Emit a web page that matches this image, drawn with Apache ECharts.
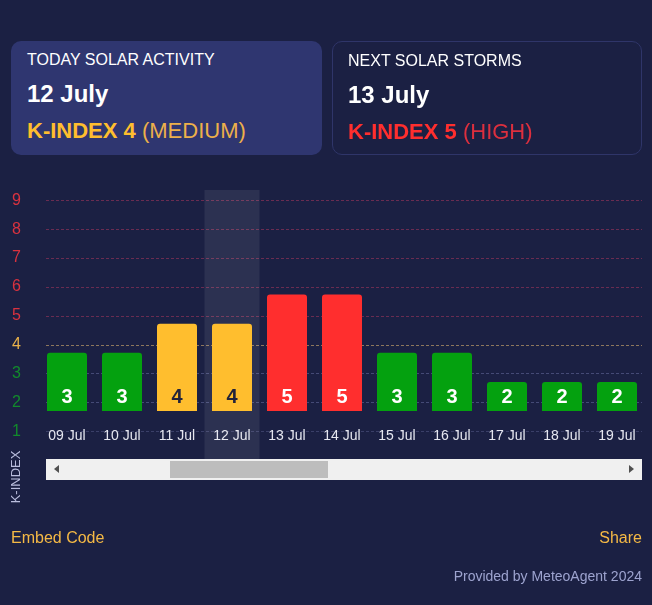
<!DOCTYPE html>
<html>
<head>
<meta charset="utf-8">
<title>K-Index</title>
<script src="https://cdn.jsdelivr.net/npm/echarts@6/dist/echarts.min.js"></script>
<style>
  html, body { margin: 0; padding: 0; width: 652px; height: 605px; overflow: hidden; background: #1b2043; font-family: "Liberation Sans", Arial, sans-serif; color: #fff; }
  .card { position: absolute; top: 41px; width: 311px; height: 114px; box-sizing: border-box; border-radius: 10px; padding: 0 16px; }
  #today { left: 11px; background: #2f3670; }
  #next { left: 332px; width: 310px; border: 1px solid #2f3569; padding: 0 15px; }
  .cardTitle { position: absolute; top: 10px; font-size: 16px; line-height: 18px; }
  .cardDate { position: absolute; top: 39px; font-size: 24px; line-height: 28px; font-weight: bold; }
  .cardLevel { position: absolute; top: 77px; font-size: 22px; line-height: 26px; }
  .cardLevel b { font-weight: bold; }
  .yellow { color: #ffbe2e; }
  .yellow span { color: #edb04a; }
  .red { color: #ff2e2e; }
  .red span { color: #dc2f3e; }
  #chart { position: absolute; left: 0; top: 0; width: 652px; height: 605px; }
  #scrollTrack { position: absolute; left: 46px; top: 459px; width: 596px; height: 21px; background: #f0f0f0; }
  #scrollThumb { position: absolute; left: 124px; top: 2px; width: 158px; height: 17px; background: #bdbdbd; }
  .arrow { position: absolute; top: 6px; width: 0; height: 0; border-top: 4.5px solid transparent; border-bottom: 4.5px solid transparent; }
  #arrowLeft { left: 8px; border-right: 5px solid #505050; }
  #arrowRight { right: 8px; border-left: 5px solid #505050; }
  .link { position: absolute; top: 529px; font-size: 16px; line-height: 18px; color: #f5b945; }
  #credit { position: absolute; right: 10px; top: 568px; font-size: 14px; line-height: 16px; color: #9da3cf; }
</style>
</head>
<body>
<div id="chart"></div>
<div class="card" id="today">
  <div class="cardTitle">TODAY SOLAR ACTIVITY</div>
  <div class="cardDate">12 July</div>
  <div class="cardLevel yellow"><b>K-INDEX 4</b> <span>(MEDIUM)</span></div>
</div>
<div class="card" id="next">
  <div class="cardTitle">NEXT SOLAR STORMS</div>
  <div class="cardDate">13 July</div>
  <div class="cardLevel red"><b>K-INDEX 5</b> <span>(HIGH)</span></div>
</div>
<div id="scrollTrack">
  <div class="arrow" id="arrowLeft"></div>
  <div id="scrollThumb"></div>
  <div class="arrow" id="arrowRight"></div>
</div>
<div class="link" style="left:11px">Embed Code</div>
<div class="link" style="right:10px">Share</div>
<div id="credit">Provided by MeteoAgent 2024</div>

<script>
var days = ["09 Jul", "10 Jul", "11 Jul", "12 Jul", "13 Jul", "14 Jul", "15 Jul", "16 Jul", "17 Jul", "18 Jul", "19 Jul"]
var kIndex = [3, 3, 4, 4, 5, 5, 3, 3, 2, 2, 2]
var selectedDay = "12 Jul"

function levelColor(k) {
  if (k >= 5) return "#ff2e2e"
  if (k == 4) return "#ffbe2e"
  return "#04a10f"
}

function tickColor(k) {
  if (k >= 5) return "#d9323f"
  if (k == 4) return "#e8b04a"
  return "#128a2c"
}

var myChart = echarts.init(document.getElementById("chart"))

var option = {
  animation: false,
  backgroundColor: "transparent",
  textStyle: { fontFamily: "Liberation Sans" },
  grid: [
    // the dashed scale, clipped to the scroll area
    { left: 46, width: 596, top: 190.4, height: 270 },
    // the selected day band
    { left: 39.5, width: 605, top: 190, height: 269 },
    // the bars themselves
    { left: 39.5, width: 605, top: 190, height: 221 },
  ],
  xAxis: [
    { gridIndex: 0, type: "category", data: days, show: false },
    {
      gridIndex: 1,
      type: "category",
      data: days,
      axisLine: { show: false },
      axisTick: { show: false },
      axisLabel: { show: false },
      axisPointer: {
        show: true,
        type: "shadow",
        value: selectedDay,
        status: "show",
        triggerTooltip: false,
        z: 1,
        label: { show: false },
        shadowStyle: { color: "rgba(255,255,255,0.08)" },
      },
    },
    {
      gridIndex: 2,
      type: "category",
      data: days,
      axisLine: { show: false },
      axisTick: { show: false },
      axisLabel: { color: "#e6e7f0", fontSize: 14, margin: 18, interval: 0 },
    },
  ],
  yAxis: [
    {
      gridIndex: 0,
      type: "value",
      min: 0,
      max: 9.34,
      interval: 1,
      axisLine: { show: false },
      axisTick: { show: false },
      axisLabel: {
        align: "left",
        margin: 34,
        fontSize: 16,
        padding: [0, 0, 5, 0],
        showMinLabel: false,
        showMaxLabel: false,
        color: (value) => tickColor(value),
      },
      splitLine: {
        showMinLine: false,
        showMaxLine: false,
        lineStyle: {
          type: [3, 2],
          width: 1,
          color: [
            "rgba(150,155,215,0.25)",
            "rgba(150,155,215,0.35)",
            "rgba(150,155,215,0.35)",
            "rgba(255,205,120,0.5)",
            "rgba(255,70,110,0.35)",
            "rgba(255,70,110,0.35)",
            "rgba(255,70,110,0.35)",
            "rgba(255,70,110,0.35)",
            "rgba(255,70,110,0.35)",
          ],
        },
      },
    },
    { gridIndex: 1, type: "value", min: 0, max: 1, show: false },
    { gridIndex: 2, type: "value", min: 1, max: 8.59, show: false },
  ],
  series: [
    {
      type: "bar",
      z: 60,
      xAxisIndex: 2,
      yAxisIndex: 2,
      barWidth: 40,
      data: kIndex.map((k) => ({
        value: k,
        itemStyle: { color: levelColor(k), borderRadius: [3, 3, 0, 0] },
        label: { color: k == 4 ? "#23243a" : "#ffffff" },
      })),
      label: {
        show: true,
        position: "insideBottom",
        distance: 4,
        fontSize: 20,
        fontWeight: "bold",
      },
    },
  ],
  graphic: [
    {
      type: "text",
      x: 16,
      y: 477,
      rotation: Math.PI / 2,
      style: {
        text: "K-INDEX",
        fill: "#b9bddd",
        fontSize: 13,
        fontFamily: "Liberation Sans",
        align: "center",
        verticalAlign: "middle",
      },
    },
  ],
}

myChart.setOption(option)

window.addEventListener("resize", () => {
  myChart.resize()
})
</script>
</body>
</html>
